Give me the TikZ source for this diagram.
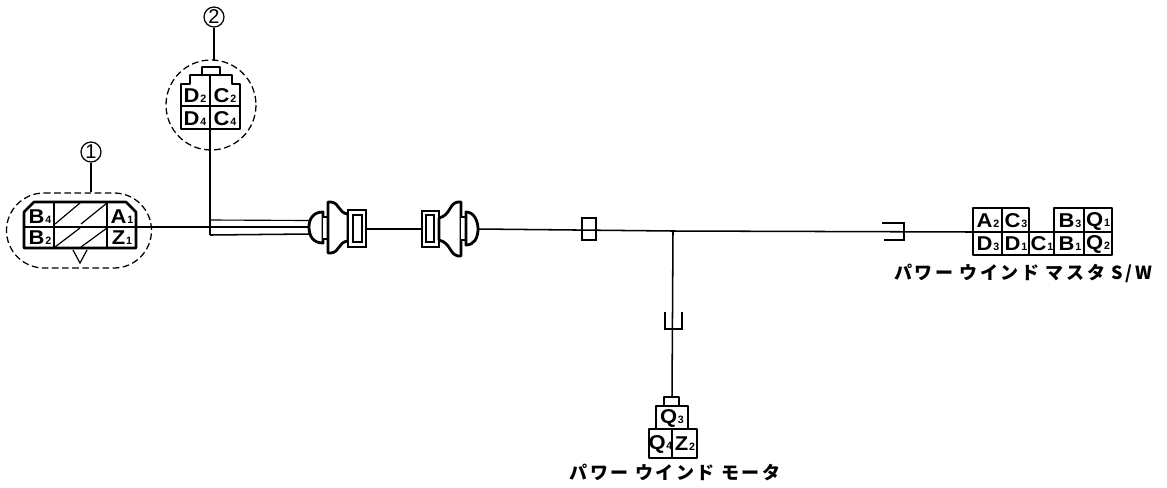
\documentclass[tikz,border=0pt]{standalone}
\usepackage{fontspec}
\setmainfont{Liberation Sans}
\newfontfamily\jpf[LetterSpace=14]{Noto Sans CJK JP Black}
\newcommand{\pinlab}[2]{\scalebox{1.1}[1]{\fontsize{15}{15}\selectfont #1}\hspace{0.6pt}{\fontsize{8}{8}\selectfont #2}}
\tikzset{
  x=0.75pt,y=-0.75pt,
  conn/.style={line width=1.9pt,line join=round},
  thin wire/.style={line width=0.85pt},
  wire/.style={line width=1.15pt},
  grid line/.style={line width=0.9pt},
  dash ring/.style={line width=0.95pt,dash pattern=on 5pt off 2.6pt},
  pin/.style={inner sep=0pt,font=\bfseries},
  callout/.style={circle,draw,line width=0.9pt,minimum size=15pt,inner sep=0pt,font=\fontsize{15}{15}\selectfont},
  jplabel/.style={inner sep=0pt,font=\jpf\fontsize{13.5}{14}\selectfont},
}
\begin{document}
\begin{tikzpicture}
\useasboundingbox (0,0) rectangle (1167,487);
% anchors for connectors
\coordinate (c1port) at (136,227);
\coordinate (branch) at (210,227);
\coordinate (boot1) at (309,227);
\coordinate (c2bot) at (210,129);
\coordinate (elbow) at (210,235);
\coordinate (plugAout) at (366,229);
\coordinate (plugBin) at (422,229);
\coordinate (plugBout) at (478,229);
\coordinate (tee) at (673,231);
\coordinate (swport) at (973,232);
\coordinate (motorkey) at (672,397);

% --- connector 1
\node[callout] (call1) at (91,152) {1};
\coordinate (ring1top) at (91,192);
\draw[thin wire] (call1) -- (ring1top);
\draw[dash ring] (44,193) -- (114,193) arc[start angle=-90,end angle=90,radius=37.5] -- (44,268) arc[start angle=90,end angle=270,radius=37.5] -- cycle;
\draw[conn] (24,248) -- (24,212) -- (34,202) -- (126,202) -- (136,212) -- (136,248) -- cycle;
\draw[grid line] (54,202) -- (54,248) (107,202) -- (107,248);
\draw[grid line] (24,227) -- (136,227);
\foreach \a/\b in {55/80,81/107}{
  \draw[grid line] (\a,224) -- (\b,203);
  \draw[grid line] (\a,247) -- (\b,228);
}
\draw[line width=0.9pt] (73,250) -- (80,263) -- (87,250);
\node[pin] (B4) at (40,217) {\pinlab{B}{4}};
\node[pin] (B2) at (40,238) {\pinlab{B}{2}};
\node[pin] (A1) at (122,217) {\pinlab{A}{1}};
\node[pin] (Z1) at (122,238) {\pinlab{Z}{1}};

% --- connector 2
\node[callout] (call2) at (214,17) {2};
\coordinate (ring2top) at (214,60);
\draw[thin wire] (call2) -- (ring2top);
\draw[dash ring] (211,105) circle[radius=45];
\draw[conn] (181,129) -- (181,84) -- (190,84) -- (190,75) -- (232,75) -- (232,84) -- (240,84) -- (240,129) -- cycle;
\draw[conn] (202,75) -- (202,67) -- (220,67) -- (220,75);
\draw[grid line] (210,75) -- (210,129) (181,106) -- (240,106);
\node[pin] (D2) at (195,96) {\pinlab{D}{2}};
\node[pin] (C2) at (225,96) {\pinlab{C}{2}};
\node[pin] (D4) at (195,119) {\pinlab{D}{4}};
\node[pin] (C4) at (225,119) {\pinlab{C}{4}};

% --- wires left
\draw[wire] (c1port) -- (boot1);
\draw[wire] (c2bot) -- (elbow);
\draw[thin wire] (branch |- 0,220) -- (309,220.5);
\draw[wire] (elbow) -- (309,234);

% --- plug A
\draw[conn,line width=2.1pt,fill=white] (323,212) .. controls (313,212) and (309,219) .. (309,227) .. controls (309,236) and (313,243) .. (323,243) -- cycle;
\draw[conn,fill=white] (323,217) -- (328,217) -- (328,239) -- (323,239);
\draw[conn,line width=2.1pt,fill=white] (328,202) -- (331,202) .. controls (340,203) and (338,213) .. (348,214) -- (348,241) .. controls (338,242) and (340,252) .. (331,253) -- (328,253) -- cycle;
\draw[grid line,fill=white] (348,210) rectangle (366,247);
\draw[grid line,line width=1.1pt] (353,215) rectangle (362,242);

% --- plug B
\draw[wire] (plugAout) -- (plugBin);
\draw[grid line,fill=white] (422,211) rectangle (439,247);
\draw[grid line,line width=1.1pt] (426,215) rectangle (434,242);
\draw[conn,line width=2.1pt,fill=white] (461,202) -- (458,202) .. controls (449,203) and (451,215) .. (439,218) -- (439,240) .. controls (451,243) and (449,254) .. (458,256) -- (461,256) -- cycle;
\draw[conn,fill=white] (461,217) -- (466,217) -- (466,240) -- (461,240);
\draw[conn,line width=2.1pt,fill=white] (466,212) .. controls (474,212) and (478,221) .. (478,229) .. controls (478,238) and (474,245) .. (466,245) -- cycle;

% --- main wire
\draw[wire] (plugBout) -- (tee) -- (swport);
\draw[grid line] (582,218) rectangle (596,240);
% fork clip near switch
\draw[wire] (882,223) -- (904,223) -- (904,240) -- (884,240);

% --- branch to motor
\draw[wire] (tee) -- (motorkey);
\draw[wire] (665,312) -- (665,329) -- (682,329) -- (682,312);

% --- motor connector
\draw[conn] (664,406) -- (664,397) -- (679,397) -- (679,406);
\draw[conn] (656,429) -- (656,406) -- (688,406) -- (688,429);
\draw[conn] (649,429) rectangle (697,458);
\draw[grid line] (672,429) -- (672,458);
\node[pin] (Q3) at (672,418) {\pinlab{Q}{3}};
\node[pin] (Q4) at (660.5,444) {\pinlab{Q}{4}};
\node[pin] (Z2) at (685,444) {\pinlab{Z}{2}};
\node[jplabel] (motorlab) at (675,472) {パワー ウインド モータ};

% --- master switch
\draw[conn] (973,232) -- (973,208) -- (1029,208) -- (1029,232);
\draw[conn] (1054,232) -- (1054,208) -- (1112,208) -- (1112,255) -- (973,255) -- (973,232);
\draw[grid line] (973,232) -- (1112,232);
\draw[grid line] (1002,208) -- (1002,255) (1029,232) -- (1029,255) (1054,232) -- (1054,255) (1084,208) -- (1084,255);
\node[pin] (A2) at (988,221) {\pinlab{A}{2}};
\node[pin] (C3) at (1016,221) {\pinlab{C}{3}};
\node[pin] (B3) at (1070,221) {\pinlab{B}{3}};
\node[pin] (Q1) at (1098,221) {\pinlab{Q}{1}};
\node[pin] (D3) at (988,244) {\pinlab{D}{3}};
\node[pin] (D1) at (1016,244) {\pinlab{D}{1}};
\node[pin] (C1) at (1042,244) {\pinlab{C}{1}};
\node[pin] (B1) at (1070,244) {\pinlab{B}{1}};
\node[pin] (Q2) at (1098,244) {\pinlab{Q}{2}};
\node[jplabel] (swlab) at (1023,273) {パワー ウインド マスタ S/W};
\end{tikzpicture}
\end{document}
